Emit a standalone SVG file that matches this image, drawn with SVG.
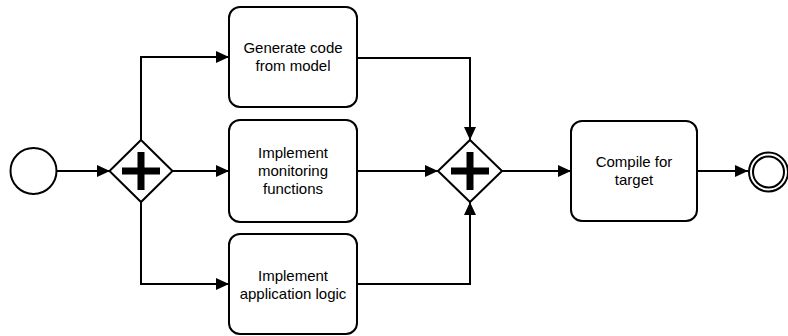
<svg xmlns="http://www.w3.org/2000/svg" width="788" height="336" viewBox="0 0 788 336">
<style>
.shape{fill:#fff;stroke:#000;stroke-width:2}
.flow{fill:none;stroke:#000;stroke-width:2}
.lbl{font-family:"Liberation Sans",Arial,sans-serif;font-size:15px;fill:#000;text-anchor:middle}
.cross{fill:#000}
</style>
<defs>
<marker id="arr" markerWidth="13" markerHeight="12" refX="13" refY="6" orient="auto" markerUnits="userSpaceOnUse">
<path d="M0,0 L13,6 L0,12 Z" fill="#000"/>
</marker>
</defs>
<g id="connectors">
<path class="flow" d="M57,171 L110,171" marker-end="url(#arr)"/>
<path class="flow" d="M141,140 L141,57 L229,57" marker-end="url(#arr)"/>
<path class="flow" d="M173,171 L229,171" marker-end="url(#arr)"/>
<path class="flow" d="M141,202 L141,284 L229,284" marker-end="url(#arr)"/>
<path class="flow" d="M357,58 L470,58 L470,140" marker-end="url(#arr)"/>
<path class="flow" d="M357,171 L438,171" marker-end="url(#arr)"/>
<path class="flow" d="M357,284 L470,284 L470,202" marker-end="url(#arr)"/>
<path class="flow" d="M502,171 L571,171" marker-end="url(#arr)"/>
<path class="flow" d="M697,171 L748,171" marker-end="url(#arr)"/>
</g>
<g id="start">
<circle class="shape" cx="33.5" cy="171" r="23"/>
</g>
<g id="gateway1">
<path class="shape" d="M141,140 L172.5,171 L141,202 L109.5,171 Z"/>
<path class="cross" d="M137.5,152 h7 v15.5 h15.5 v7 h-15.5 v15.5 h-7 v-15.5 h-15.5 v-7 h15.5 Z"/>
</g>
<g id="task1">
<rect class="shape" x="229" y="7" width="128" height="100" rx="11"/>
<text class="lbl" x="293" y="53">Generate code</text>
<text class="lbl" x="293" y="71">from model</text>
</g>
<g id="task2">
<rect class="shape" x="229" y="120" width="128" height="102" rx="11"/>
<text class="lbl" x="293" y="158">Implement</text>
<text class="lbl" x="293" y="176">monitoring</text>
<text class="lbl" x="293" y="194">functions</text>
</g>
<g id="task3">
<rect class="shape" x="229" y="234" width="128" height="100" rx="11"/>
<text class="lbl" x="293" y="281">Implement</text>
<text class="lbl" x="293" y="299">application logic</text>
</g>
<g id="gateway2">
<path class="shape" d="M470,140 L502,171 L470,202 L438,171 Z"/>
<path class="cross" d="M466.5,152 h7 v15.5 h15.5 v7 h-15.5 v15.5 h-7 v-15.5 h-15.5 v-7 h15.5 Z"/>
</g>
<g id="task4">
<rect class="shape" x="571" y="121" width="126" height="100" rx="11"/>
<text class="lbl" x="634" y="167">Compile for</text>
<text class="lbl" x="634" y="185">target</text>
</g>
<g id="end">
<circle class="shape" cx="768.5" cy="172" r="19.5"/>
<circle class="shape" cx="768.5" cy="172" r="15.5"/>
</g>
</svg>
